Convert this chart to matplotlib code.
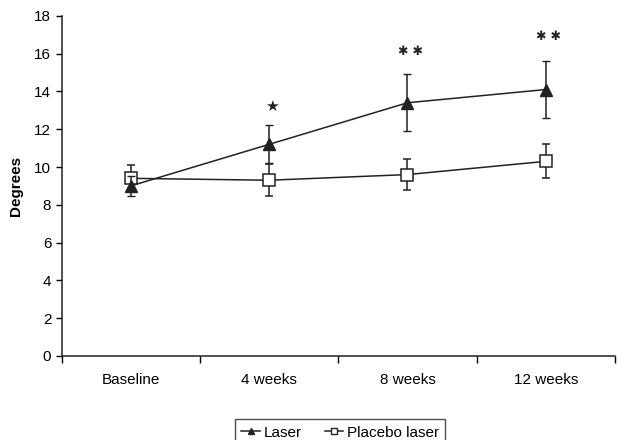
import matplotlib
matplotlib.use("Agg")
import matplotlib.pyplot as plt
from matplotlib.lines import Line2D
import numpy as np

plt.rcParams['font.family'] = ['Liberation Sans', 'DejaVu Sans']

categories = ["Baseline", "4 weeks", "8 weeks", "12 weeks"]
laser = [9.0, 11.2, 13.4, 14.1]
laser_err = [0.55, 1.0, 1.5, 1.5]
placebo = [9.4, 9.3, 9.6, 10.3]
placebo_err = [0.7, 0.85, 0.8, 0.9]
sig_labels = ["", "★", "✱ ✱", "✱ ✱"]
sig_y = [0, 13.2, 16.1, 16.9]
yticks = list(range(0, 19, 2))

fig = plt.figure(figsize=(6.3, 4.4), dpi=100)
ax = fig.add_axes([0.098, 0.191, 0.878, 0.773])

c = '#222222'
x = np.arange(len(categories))
ax.errorbar(x, placebo, yerr=placebo_err, color=c, lw=1.1, marker='s',
            ms=8, mfc='white', mec=c, mew=1.1, capsize=3, elinewidth=1.1,
            zorder=2)
ax.errorbar(x, laser, yerr=laser_err, color=c, lw=1.1, marker='^',
            ms=9, mfc=c, mec=c, capsize=3, elinewidth=1.1, zorder=3)

for i, (xi, lab, yy) in enumerate(zip(x, sig_labels, sig_y)):
    if lab:
        ax.text(xi + 0.02, yy, lab, ha='center', va='center',
                fontsize=11 if i == 1 else 9, color=c, family=['DejaVu Sans'])

ax.set_xlim(-0.5, len(categories) - 0.5)
ax.set_ylim(0, 18)
ax.set_yticks(yticks)
ax.set_xticks(x)
ax.set_xticklabels(categories, fontsize=11)
ax.set_xticks(np.arange(-0.5, len(categories)), minor=True)
ax.tick_params(axis='x', which='major', length=0, pad=12)
ax.tick_params(axis='x', which='minor', length=5, direction='out', width=1)
ax.tick_params(axis='y', length=4, direction='out', width=1, labelsize=11)
for s in ['top', 'right']:
    ax.spines[s].set_visible(False)
for s in ['left', 'bottom']:
    ax.spines[s].set_linewidth(1.1)
    ax.spines[s].set_color(c)
ax.set_ylabel('Degrees', fontsize=11, fontweight='bold', labelpad=8)

handles = [Line2D([], [], color=c, lw=1.1, marker='^', ms=5, mfc=c, mec=c),
           Line2D([], [], color=c, lw=1.1, marker='s', ms=4.5, mfc='white', mec=c)]
leg = fig.legend(handles, ['Laser', 'Placebo laser'], loc='upper center',
                 bbox_to_anchor=(0.54, 0.064), ncol=2, frameon=True,
                 fancybox=False, edgecolor=c, fontsize=11, handlelength=1.2,
                 handletextpad=0.25, columnspacing=1.5, borderpad=0.4)
leg.get_frame().set_linewidth(1.0)

fig.savefig('out.png', dpi=100)
